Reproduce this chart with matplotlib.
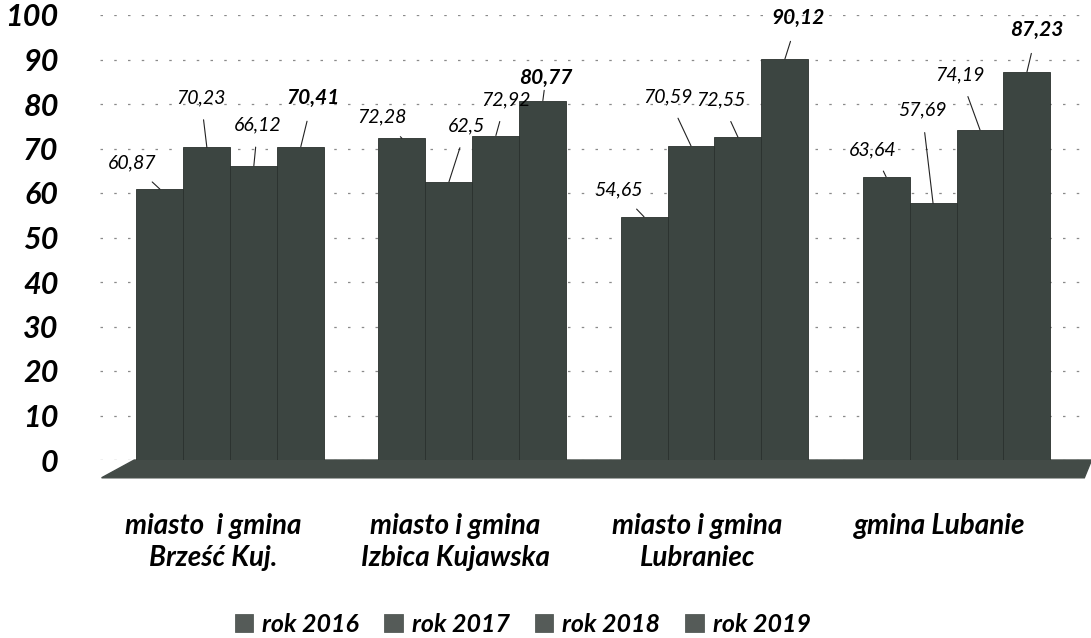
import matplotlib
matplotlib.use("Agg")
import matplotlib.pyplot as plt
import matplotlib.transforms as mtransforms
import numpy as np

plt.rcParams['font.family'] = ['Lato', 'DejaVu Sans']

# chart data
categories = ["miasto  i gmina\nBrześć Kuj.", "miasto i gmina\nIzbica Kujawska",
              "miasto i gmina\nLubraniec", "gmina Lubanie"]
years = ["rok 2016", "rok 2017", "rok 2018", "rok 2019"]
val_2016 = [60.87, 72.28, 54.65, 63.64]
val_2017 = [70.23, 62.5, 70.59, 57.69]
val_2018 = [66.12, 72.92, 72.55, 74.19]
val_2019 = [70.41, 80.77, 90.12, 87.23]
y_ticks = [0, 10, 20, 30, 40, 50, 60, 70, 80, 90, 100]

# label offsets (pixels) from bar top, per year then per group
label_dx = [[-28, -20, -26, -13], [-6, 18, -23, -11], [4, 10, -17, -20], [12, 3, 13, 10]]
label_dy = [[26, 21, 27, 27], [50, 56, 49, 93], [41, 36, 37, 55], [49, 23, 41, 42]]

BAR = '#3c4541'


def fmt(v):
    s = ('%.2f' % v).rstrip('0').rstrip('.')
    return s.replace('.', ',')


def main():
    fig = plt.figure(figsize=(10.91, 6.38), dpi=100)
    ax = fig.add_axes([0.092, 1 - 460 / 638, 0.903, (460 - 15) / 638])

    x = np.arange(len(categories))
    width = 0.194
    series = [val_2016, val_2017, val_2018, val_2019]
    for i, vals in enumerate(series):
        pos = x + (i - 1.5) * width
        ax.bar(pos, vals, width, color=BAR, edgecolor='#2a302d', linewidth=0.6,
               label=years[i], zorder=3)
        for j, v in enumerate(vals):
            ax.annotate(fmt(v), xy=(pos[j], v), xytext=(label_dx[i][j], label_dy[i][j]),
                        textcoords='offset pixels', ha='center', va='center',
                        fontsize=15 if i == 3 else 14, style='italic',
                        fontweight='bold' if i == 3 else 'normal',
                        arrowprops=dict(arrowstyle='-', color='#222222', lw=0.8,
                                        shrinkA=8, shrinkB=0), zorder=5)

    xmin, xmax = -0.537, 3.533
    ax.set_xlim(xmin, xmax)
    ax.set_ylim(0, 100)

    # 3D-looking floor under the bars
    floor = plt.Polygon([(xmin + 0.005, -4.0), (xmin + 0.14, 0), (xmax + 0.025, 0),
                         (xmax - 0.005, -4.0)], closed=True, color='#434b47',
                        clip_on=False, zorder=2)
    ax.add_patch(floor)

    ax.set_yticks(y_ticks)
    ax.set_yticklabels([str(t) for t in y_ticks], fontsize=22, fontweight='bold',
                       style='italic')
    ax.set_xticks(x)
    ax.set_xticklabels(categories, fontsize=20, fontweight='bold', style='italic',
                       linespacing=1.3, va='top')
    ax.tick_params(axis='y', length=0, pad=30)
    ax.tick_params(axis='x', length=0, pad=38)

    # category labels sit a little left of the bars (perspective in the original)
    shift = mtransforms.ScaledTranslation(-17 / 100, 0, fig.dpi_scale_trans)
    for lbl in ax.get_xticklabels():
        lbl.set_transform(lbl.get_transform() + shift)

    ax.yaxis.grid(True, color='#8a8a8a', linestyle=(0, (2, 9)), linewidth=0.9, zorder=0)
    for spine in ax.spines.values():
        spine.set_visible(False)

    fig.legend(loc='center', bbox_to_anchor=(0.479, 1 - 624 / 638), ncol=4, frameon=False,
               prop=dict(size=18, weight='bold', style='italic'),
               handlelength=0.75, handleheight=0.75, handletextpad=0.35, columnspacing=1.0)
    for h in fig.legends[0].legend_handles:
        h.set_color('#555b58')

    fig.savefig('out.png', dpi=100, facecolor='white')


if __name__ == "__main__":
    main()
